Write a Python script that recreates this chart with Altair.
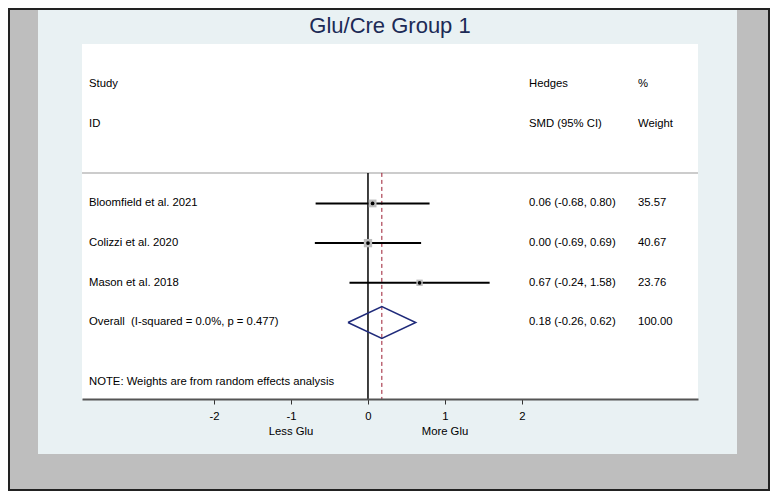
import altair as alt
import pandas as pd

# study rows
studies = ["Bloomfield et al. 2021", "Colizzi et al. 2020", "Mason et al. 2018"]
smd = [0.06, 0.00, 0.67]
ci_lo = [-0.68, -0.69, -0.24]
ci_hi = [0.80, 0.69, 1.58]
weights = [35.57, 40.67, 23.76]
study_rows = [4, 5, 6]

# pooled estimate
overall_label = "Overall\u00a0 (I-squared = 0.0%, p = 0.477)"
overall_est = 0.18
overall_lo = -0.26
overall_hi = 0.62
overall_weight = 100.00
overall_row = 7

header_rows = [1, 2]
col_study = ["Study", "ID"]
col_smd = ["Hedges", "SMD (95% CI)"]
col_weight = ["%", "Weight"]
note_text = "NOTE: Weights are from random effects analysis"
note_row = 8.5
sep_row = 3.23
axis_row = 8.93

tick_values = [-2, -1, 0, 1, 2]
side_labels = ["Less Glu", "More Glu"]
side_x = [-1, 1]
side_row = 9.75

title = "Glu/Cre Group 1"

W, H = 616, 355
FONT = "Liberation Sans"
FS = 11.3

x_scale = alt.Scale(domain=[-3.714, 4.286], nice=False, zero=False)
y_scale = alt.Scale(domain=[-0.02, axis_row], reverse=True, nice=False, zero=False)
x_axis = alt.Axis(
    values=tick_values,
    title="",
    grid=False,
    zindex=1,
    labelExpr="'' + datum.value",
    labelFont=FONT,
    labelFontSize=FS,
    labelColor="#000000",
    labelPadding=6,
    domainColor="#555555",
    domainWidth=2,
    tickColor="#333333",
    tickSize=5,
    tickWidth=1,
)


def X(field):
    return alt.X(field, scale=x_scale, axis=x_axis)


def Y(field):
    return alt.Y(field, scale=y_scale, axis=None)


one = pd.DataFrame({"a": [0]})

# page decoration: light panel, outer frame, white plot area
panel = alt.Chart(one).mark_rect(color="#e9f1f3").encode(
    x=alt.value(-44), x2=alt.value(655), y=alt.value(-36), y2=alt.value(410)
)
frame = alt.Chart(one).mark_rect(
    fillOpacity=0, stroke="#222222", strokeWidth=2
).encode(x=alt.value(-73), x2=alt.value(687), y=alt.value(-35), y2=alt.value(446))
plot_bg = alt.Chart(one).mark_rect(color="#ffffff").encode(
    x=alt.value(0), x2=alt.value(W), y=alt.value(0), y2=alt.value(H)
)

title_mark = alt.Chart(pd.DataFrame({"t": [title]})).mark_text(
    font=FONT, fontSize=22, color="#1c2a56", baseline="middle", align="center"
).encode(x=alt.value(308), y=alt.value(-18), text="t:N")

sep = alt.Chart(pd.DataFrame({"y": [sep_row]})).mark_rule(
    color="#cccccc", strokeWidth=2
).encode(y=Y("y:Q"), x=alt.value(0), x2=alt.value(W))

lines = pd.DataFrame(
    {"x": [0.0, overall_est], "y": [sep_row, sep_row], "y2": [axis_row, axis_row]}
)
zero_line = alt.Chart(lines.iloc[[0]]).mark_rule(
    color="#000000", strokeWidth=1.5
).encode(x=X("x:Q"), y=Y("y:Q"), y2="y2:Q")
est_line = alt.Chart(lines.iloc[[1]]).mark_rule(
    color="#9b1c31", strokeWidth=1, strokeDash=[4, 3]
).encode(x=X("x:Q"), y=Y("y:Q"), y2="y2:Q")

st = pd.DataFrame(
    {
        "study": studies,
        "est": smd,
        "lo": ci_lo,
        "hi": ci_hi,
        "w": weights,
        "row": study_rows,
    }
)

boxes = alt.Chart(st).mark_square(color="#bdbdbd", opacity=1).encode(
    x=X("est:Q"),
    y=Y("row:Q"),
    size=alt.Size("w:Q", scale=alt.Scale(domain=[0, 100], range=[0, 170]), legend=None),
)
cis = alt.Chart(st).mark_rule(color="#000000", strokeWidth=2).encode(
    x=X("lo:Q"), x2="hi:Q", y=Y("row:Q")
)
dots = alt.Chart(st).mark_circle(color="#000000", size=14, opacity=1).encode(
    x=X("est:Q"), y=Y("row:Q")
)

h = 0.4
diamond_df = pd.DataFrame(
    {
        "x": [overall_lo, overall_est, overall_hi, overall_est, overall_lo],
        "y": [overall_row, overall_row - h, overall_row, overall_row + h, overall_row],
        "i": [0, 1, 2, 3, 4],
    }
)
diamond = alt.Chart(diamond_df).mark_line(color="#1f2a7a", strokeWidth=1.5).encode(
    x=X("x:Q"), y=Y("y:Q"), order="i:Q"
)

# text columns
left_txt = col_study + studies + [overall_label, note_text]
mid_txt = col_smd + [
    f"{e:.2f} ({l:.2f}, {u:.2f})" for e, l, u in zip(smd, ci_lo, ci_hi)
] + [f"{overall_est:.2f} ({overall_lo:.2f}, {overall_hi:.2f})"]
right_txt = col_weight + [f"{w:.2f}" for w in weights] + [f"{overall_weight:.2f}"]
rows_left = header_rows + study_rows + [overall_row, note_row]
rows_mid = header_rows + study_rows + [overall_row]


def text_col(texts, rows, xpos):
    df = pd.DataFrame({"t": texts, "row": rows})
    return alt.Chart(df).mark_text(
        font=FONT, fontSize=FS, color="#000000", align="left", baseline="middle"
    ).encode(x=alt.value(xpos), y=Y("row:Q"), text="t:N")


t_left = text_col(left_txt, rows_left, 7)
t_mid = text_col(mid_txt, rows_mid, 447)
t_right = text_col(right_txt, rows_mid, 556)

sides = alt.Chart(
    pd.DataFrame({"t": side_labels, "x": side_x, "row": [side_row] * 2})
).mark_text(
    font=FONT, fontSize=FS, color="#000000", align="center", baseline="middle"
).encode(x=X("x:Q"), y=Y("row:Q"), text="t:N")

chart = (
    alt.layer(
        panel, frame, plot_bg, title_mark, sep, zero_line, est_line,
        cis, boxes, dots, diamond, t_left, t_mid, t_right, sides,
    )
    .properties(
        width=W,
        height=H,
        background="#bebebe",
        padding={"left": 74, "top": 36, "right": 72, "bottom": 92},
        autosize=alt.AutoSizeParams(type="none"),
    )
    .configure_view(strokeWidth=0)
)

chart.save("out.html", embed_options={"renderer": "svg", "actions": False})
